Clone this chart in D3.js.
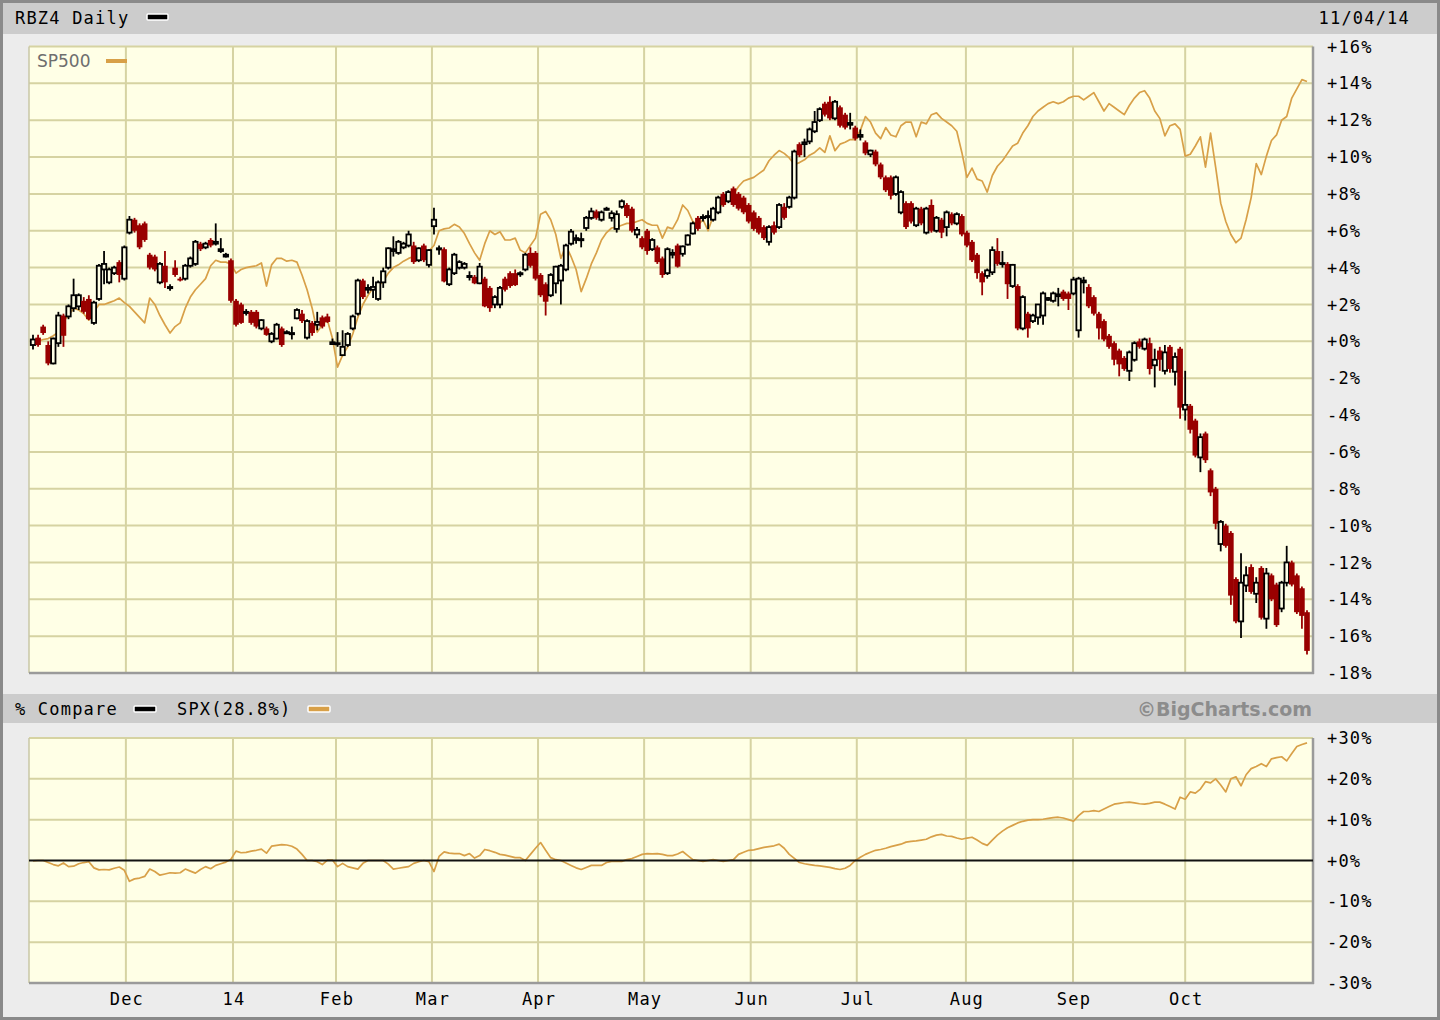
<!DOCTYPE html>
<html><head><meta charset="utf-8">
<script src="https://cdn.jsdelivr.net/npm/d3@7"></script>
<style>
html,body{margin:0;padding:0;background:#ececec;}
svg{display:block;}
.mono{font-family:"DejaVu Sans Mono",monospace;font-size:17px;letter-spacing:1.2px;fill:#000;}
</style>
</head><body>
<svg id="c" width="1440" height="1020"></svg>
<script>
// ---------------- DATA ----------------
const symbol = "RBZ4 Daily";
const chartDate = "11/04/14";
const compareName = "SP500";
const compareLabel = "SPX(28.8%)";
const monthLabels = ["Dec","14","Feb","Mar","Apr","May","Jun","Jul","Aug","Sep","Oct"];
// month starts as (fractional) trading-day index
const monthPos = [18.3,39.4,59.7,78.6,99.5,120.4,141.4,162.3,183.8,204.9,227.0];
const mainTicks = [16,14,12,10,8,6,4,2,0,-2,-4,-6,-8,-10,-12,-14,-16,-18];
const compareTicks = [30,20,10,0,-10,-20,-30];

// RBZ4 daily candles, % change from first close
const open = [
-0.2,0.2,0.8,-0.2,-1.2,-0.1,1.4,1.35,1.8,1.9,2.2,2.3,1.0,2.3,3.9,3.2,3.7,4.3,
3.4,5.9,6.6,6.3,6.4,4.7,4.6,3.2,4.1,2.9,4.0,3.4,3.4,4.1,4.2,5.3,5.1,5.5,5.3,4.9,4.6,
4.4,2.2,2.0,1.55,1.6,1.6,0.7,0.7,0.0,0.15,0.7,0.45,0.4,1.25,1.5,0.2,1.0,0.9,1.3,1.35,-0.15,
-0.15,-0.75,-0.2,0.7,1.5,3.3,2.8,2.8,2.3,3.2,4.0,4.9,4.8,5.1,5.2,5.2,4.4,5.2,4.15,
6.25,5.0,5.0,3.1,3.7,4.0,4.0,3.5,3.5,3.15,3.4,2.9,2.0,2.0,3.4,3.7,3.7,3.65,3.9,4.8,4.8,
3.6,3.1,2.5,3.15,3.3,3.9,5.3,5.5,5.5,6.15,6.7,7.05,6.6,7.15,6.7,6.1,7.3,7.4,7.2,5.8,5.6,
6.0,5.0,5.1,4.5,3.7,4.7,5.2,4.75,5.25,5.85,6.7,6.7,6.75,6.6,7.0,8.0,7.6,8.3,8.0,7.8,7.4,
7.0,6.7,6.2,5.4,6.3,6.2,7.3,7.3,7.8,10.7,10.7,10.85,11.4,12.0,12.9,13.0,12.1,12.7,12.3,11.75,11.6,
11.1,10.8,10.15,10.3,9.6,8.9,8.9,8.0,7.0,7.5,7.5,6.3,7.2,5.9,7.4,6.0,6.6,6.2,6.9,6.4,6.8,5.9,
5.4,4.7,3.7,3.55,3.75,4.9,4.2,4.2,3.0,3.0,0.7,1.5,1.1,1.3,1.4,2.25,2.2,2.45,2.7,2.6,2.6,
0.6,3.2,2.95,2.4,1.5,1.1,0.3,-0.1,-0.5,-0.9,-1.6,-1.0,0.0,-0.4,-0.1,-1.3,-0.5,-1.6,-0.3,-1.65,-0.4,
-3.7,-3.5,-4.3,-6.3,-5.0,-7.0,-8.0,-11.0,-10.0,-10.4,-12.9,-15.2,-13.25,-12.25,-13.7,-12.3,-15.05,-12.7,-13.2,-14.5,-13.1,-12.0,-12.7,-13.4,-14.7
];
const high = [
0.35,0.35,0.9,0.0,0.2,1.6,1.5,2.0,3.4,2.6,2.4,2.5,2.2,4.2,4.9,4.0,4.1,4.4,
5.2,6.8,6.7,6.4,6.5,4.8,4.7,4.3,4.9,3.1,4.4,3.5,4.2,4.6,5.5,5.4,5.4,5.6,6.4,5.6,4.8,
4.5,2.3,2.1,1.75,1.7,1.7,1.2,0.8,0.5,1.0,0.8,0.6,0.8,1.8,1.7,1.2,1.1,1.6,1.4,1.5,0.15,
0.5,0.6,0.5,1.45,3.4,3.4,3.1,3.5,3.3,4.0,5.1,5.7,5.5,5.4,6.0,5.4,5.1,5.3,5.0,
7.25,5.2,5.1,4.0,4.8,4.4,4.3,3.8,3.6,4.25,3.5,3.0,2.5,3.0,3.5,3.8,3.9,3.8,4.8,5.1,4.9,
3.7,3.2,3.7,4.1,4.2,5.3,6.1,5.8,5.9,6.8,7.25,7.15,7.1,7.3,7.1,7.1,7.7,7.5,7.3,6.2,5.7,
6.1,5.6,5.2,4.6,5.1,5.0,5.3,5.2,5.8,6.5,6.8,6.9,7.1,7.3,7.9,8.1,8.2,8.4,8.1,7.9,7.5,
7.1,6.8,6.3,6.3,6.5,7.5,7.5,7.9,10.4,10.8,11.0,11.6,12.5,12.7,13.0,13.3,13.1,12.8,12.4,12.4,11.7,
11.5,10.9,10.4,10.4,9.7,9.0,9.0,9.0,8.2,7.6,7.6,7.3,7.3,7.3,7.7,6.8,6.7,7.1,7.0,7.0,6.9,6.0,
5.5,4.8,3.8,3.95,5.15,5.6,4.9,4.3,4.2,3.1,2.5,1.6,1.5,2.0,2.7,2.4,2.7,2.9,2.8,2.7,3.5,
3.5,3.5,3.1,2.5,1.6,1.2,0.4,0.0,-0.4,-0.8,-0.5,0.0,0.15,0.2,0.2,-0.4,-0.3,-0.2,-0.2,-0.6,-0.3,
-1.6,-3.4,-4.2,-5.0,-4.9,-6.9,-7.9,-9.7,-9.9,-10.3,-12.8,-11.5,-12.2,-12.1,-12.8,-12.2,-12.3,-12.6,-13.1,-13.0,-11.1,-11.9,-12.6,-13.3,-14.6
];
const low = [
-0.45,-0.3,0.35,-1.3,-1.25,-0.3,-0.3,1.2,1.6,1.7,1.5,1.15,0.9,2.2,3.1,3.1,3.6,3.2,
3.3,5.8,5.9,5.0,5.4,3.9,3.8,3.1,2.9,2.75,3.5,3.25,3.3,4.0,4.1,4.9,5.0,5.1,5.2,4.8,4.55,
2.1,0.8,0.95,1.4,0.9,0.7,0.6,0.3,-0.1,0.1,-0.3,0.4,0.1,1.2,1.0,0.1,0.3,0.6,0.7,1.0,-0.2,
-0.3,-0.8,-0.3,0.6,1.4,2.3,2.6,2.35,2.2,2.9,3.9,4.6,4.7,5.0,5.1,4.2,4.3,4.3,4.0,
5.8,4.7,3.2,3.0,3.6,3.9,3.9,3.3,3.1,3.1,1.85,1.6,1.8,1.8,2.7,2.9,3.0,3.5,3.8,4.0,3.3,
2.4,1.4,2.4,2.6,2.0,3.8,5.2,5.3,5.1,6.0,6.6,6.6,6.5,7.1,6.5,5.9,7.2,6.7,5.9,5.6,5.0,
4.7,4.9,4.2,3.45,3.6,4.5,4.0,4.6,5.2,5.8,6.0,6.5,6.1,6.5,6.9,7.3,7.5,7.3,7.1,6.9,6.4,
6.0,5.8,5.5,5.2,5.8,6.1,6.6,7.2,7.7,10.0,10.0,10.7,11.3,11.9,12.2,12.0,12.0,11.6,11.5,11.5,10.9,
10.9,10.1,10.0,9.5,8.8,8.1,7.7,7.9,6.9,6.1,6.4,6.2,6.3,5.8,5.9,5.9,5.6,5.7,6.3,6.3,5.7,5.1,
4.3,3.4,2.5,3.4,3.6,4.1,4.0,2.3,2.9,0.6,0.6,0.2,1.0,0.9,0.9,2.2,2.1,1.9,2.2,1.7,2.5,
0.2,2.6,1.8,1.4,0.1,0.0,-0.4,-1.3,-1.9,-1.6,-2.15,-1.1,-0.4,-0.5,-1.8,-2.5,-1.6,-1.8,-1.7,-2.4,-4.2,
-4.3,-5.0,-6.3,-7.1,-6.6,-8.4,-10.2,-11.4,-11.2,-14.3,-15.3,-16.1,-13.6,-13.7,-14.2,-15.1,-15.6,-14.1,-15.5,-14.7,-13.3,-13.3,-14.8,-15.6,-17.0
];
const close = [
0.1,-0.2,0.45,-1.2,0.15,1.4,0.3,1.9,2.5,2.5,1.6,1.2,2.1,4.1,4.2,3.9,4.0,3.6,
5.1,6.6,6.0,5.1,5.5,4.0,3.9,4.2,3.2,2.95,3.6,3.3,4.1,4.5,5.4,5.0,5.3,5.2,5.4,5.0,4.7,
2.2,0.9,1.0,1.6,1.0,0.8,1.15,0.35,0.4,0.9,-0.2,0.5,0.45,1.7,1.1,1.1,0.45,1.05,0.8,1.05,-0.05,
-0.1,-0.3,0.4,1.35,3.3,2.4,2.9,2.95,3.2,3.8,5.05,5.0,5.4,5.3,5.8,4.3,5.05,4.4,4.95,
6.6,5.05,3.25,3.9,4.7,4.3,4.2,3.55,3.15,4.05,1.9,1.8,2.4,2.9,2.8,3.0,3.05,3.7,4.7,4.1,3.4,
2.5,2.15,3.6,4.05,4.1,5.2,5.95,5.6,5.55,6.7,7.05,6.7,7.0,7.2,6.95,6.9,7.6,6.8,6.0,6.05,5.1,
4.9,5.5,4.3,3.6,5.0,4.8,4.05,5.15,5.75,6.4,6.1,6.75,6.8,7.2,7.8,7.4,8.1,7.4,7.2,7.0,6.5,
6.1,5.9,5.6,6.2,5.9,7.4,6.7,7.8,10.3,10.1,10.8,11.5,11.9,12.6,12.3,12.1,13.0,11.7,11.6,11.85,11.0,
11.2,10.2,10.35,9.6,8.9,8.2,7.9,8.9,8.1,6.2,6.5,7.2,6.4,7.2,6.0,6.7,5.9,7.0,6.4,6.9,5.8,5.2,
4.4,3.7,3.2,3.85,4.95,4.2,4.25,3.1,4.15,0.7,2.4,0.7,1.4,2.0,2.6,2.35,2.6,2.55,2.3,2.3,3.35,
3.4,3.3,1.9,1.5,0.7,0.1,-0.3,-1.0,-1.25,-1.5,-0.6,-0.1,-0.3,0.1,-1.5,-1.0,-1.0,-0.6,-1.5,-0.85,-3.6,
-3.45,-4.8,-6.2,-5.2,-6.45,-8.2,-9.9,-9.8,-11.1,-13.8,-15.2,-13.1,-12.7,-13.6,-13.1,-15.0,-12.6,-14.0,-15.4,-13.1,-12.0,-13.2,-14.7,-14.9,-16.8
];
// SP500 % change, same days
const sp500 = [
0.0,0.0,0.1,0.15,0.3,0.5,1.1,1.4,1.8,1.7,
1.5,1.15,1.6,2.0,2.0,2.1,2.2,2.35,2.1,1.9,
1.6,1.3,1.0,2.35,2.0,1.4,0.9,0.45,0.8,1.0,
1.8,2.4,2.8,3.1,3.4,4.1,4.4,4.3,4.3,4.2,
3.7,3.9,4.0,4.05,4.1,4.25,3.0,4.15,4.5,4.5,
4.35,4.4,4.3,3.6,2.8,1.8,0.5,0.9,1.15,0.15,
-1.4,-0.75,-0.3,0.4,1.3,2.0,2.5,2.9,3.0,3.25,
3.7,4.0,4.15,4.35,4.5,4.6,4.65,4.7,4.9,5.2,
6.0,6.1,6.15,6.35,6.2,5.85,5.3,4.8,4.4,5.3,
6.0,5.8,5.95,5.5,5.5,5.6,4.95,4.8,5.2,5.6,
6.9,7.05,6.6,5.8,4.5,5.2,4.6,3.9,2.7,3.4,
4.2,4.8,5.5,5.9,6.15,6.2,6.3,6.4,6.4,6.5,
6.6,6.4,6.3,6.3,5.6,6.2,6.1,6.6,7.4,7.1,
6.5,6.3,6.6,6.0,6.8,7.2,7.5,7.7,8.0,8.4,
8.7,8.8,8.9,9.1,9.3,9.8,10.1,10.35,10.2,9.95,
9.6,9.7,9.85,10.1,10.25,10.5,10.25,11.15,10.35,10.7,
10.8,10.95,10.95,11.45,12.2,11.9,11.3,11.0,11.6,11.2,
11.1,11.7,11.9,11.9,11.1,11.9,11.8,12.3,12.4,12.1,
11.9,11.7,11.4,10.25,8.9,9.4,8.8,8.7,8.1,9.0,
9.5,9.8,10.2,10.6,10.75,11.3,11.7,12.2,12.5,12.7,
12.9,13.0,12.9,13.0,13.2,13.3,13.3,13.1,13.3,13.5,
13.0,12.5,12.9,12.7,12.5,12.3,12.8,13.2,13.5,13.6,
13.2,12.5,12.1,11.15,11.7,11.8,11.5,10.05,10.15,10.6,
11.1,9.45,11.3,9.45,7.5,6.5,5.8,5.35,5.6,6.6,
7.8,9.65,9.05,10.05,10.9,11.2,12.0,12.2,13.2,13.7,
14.2,14.1
];
// % Compare panel: SPX relative performance
const spxCompare = [
-0.1,0.0,0.0,-0.5,-1.0,-1.3,-0.6,-1.5,-1.4,-0.8,
-0.5,-0.3,-1.8,-2.3,-2.2,-2.3,-1.9,-1.6,-2.4,-5.1,
-4.5,-4.3,-3.9,-2.1,-2.7,-3.6,-3.3,-3.0,-3.1,-3.0,
-2.1,-2.6,-3.1,-2.2,-1.5,-2.0,-1.2,-0.8,-0.4,0.3,
2.3,1.9,2.0,2.3,2.5,2.8,1.8,3.5,3.7,3.9,
3.8,3.5,2.8,1.5,0.0,0.0,-0.3,-1.0,0.1,0.1,
-1.5,-0.7,-1.5,-1.8,-2.1,-0.7,0.0,0.0,0.0,0.0,
-0.9,-2.1,-1.9,-1.7,-1.5,-0.7,-0.3,0.0,-0.3,-2.7,
1.0,2.1,1.8,1.7,1.7,1.2,1.7,0.6,1.2,2.7,
2.4,2.0,1.5,1.3,1.0,0.7,0.7,0.0,1.5,3.0,
4.4,2.5,0.7,0.2,0.0,-0.6,-1.2,-1.8,-2.2,-1.7,
-1.2,-1.2,-1.2,-0.5,-0.2,-0.2,-0.2,0.2,0.5,1.0,
1.5,1.7,1.6,1.7,1.5,1.2,1.2,1.6,2.2,1.2,
0.2,0.0,-0.2,0.0,0.2,0.0,-0.2,0.0,0.2,1.5,
2.0,2.5,2.6,2.9,3.2,3.4,3.6,4.0,3.0,1.5,
0.5,-0.5,-0.8,-1.0,-1.2,-1.3,-1.5,-1.7,-2.0,-2.2,
-1.9,-1.2,0.0,0.8,1.5,2.0,2.5,2.7,3.0,3.4,
3.7,4.0,4.5,4.7,4.8,5.0,5.2,5.8,6.2,6.4,
6.0,5.9,5.5,5.2,5.5,5.7,5.0,4.2,3.7,5.0,
6.2,7.2,8.0,8.6,9.2,9.6,9.9,10.0,10.0,10.1,
10.3,10.5,10.6,10.4,10.0,9.6,11.0,12.0,12.0,12.2,
12.0,12.6,13.2,13.8,14.0,14.2,14.3,14.1,13.9,13.8,
14.0,14.3,14.3,13.8,13.2,12.6,15.5,15.0,16.8,16.5,
17.5,19.3,19.0,20.0,18.5,16.8,20.0,20.5,18.3,21.0,
22.5,23.0,23.7,23.0,24.9,25.2,25.4,24.4,26.2,27.9,
28.4,28.8
];

// ---------------- DRAW ----------------
const W = 1440, H = 1020;
const PL = 29, PR = 1313;
const svg = d3.select("#c");
const BG = "#ffffe6", GRID = "#d6d3a2", RED = "#990000", ORANGE = "#d8a048";

svg.append("rect").attr("x",0).attr("y",0).attr("width",W).attr("height",H).attr("fill","#ececec");
// header bars
svg.append("rect").attr("x",3).attr("y",3).attr("width",W-6).attr("height",31).attr("fill","#cccccc");
svg.append("rect").attr("x",3).attr("y",694).attr("width",W-6).attr("height",29).attr("fill","#cccccc");
// outer frame
svg.append("rect").attr("x",1.5).attr("y",1.5).attr("width",W-3).attr("height",H-3)
  .attr("fill","none").attr("stroke","#8a8a8a").attr("stroke-width",3);

const x = d3.scaleLinear().domain([0, close.length-1]).range([33, 1307]);
const y = d3.scaleLinear().domain([-18, 16]).range([673, 46.5]);
const y2 = d3.scaleLinear().domain([-30, 30]).range([983, 738]);
const pct = v => (v >= 0 ? "+" : "") + v + "%";

function panel(top, bottom){
  svg.append("rect").attr("x",PL).attr("y",top).attr("width",PR-PL).attr("height",bottom-top).attr("fill",BG);
}
panel(46.5, 673);
panel(738, 983);

// main grid
const gMain = svg.append("g");
gMain.selectAll("line.h").data(mainTicks).join("line")
  .attr("x1",PL).attr("x2",PR).attr("y1",d=>y(d)).attr("y2",d=>y(d))
  .attr("stroke",GRID).attr("stroke-width",2);
gMain.selectAll("line.v").data(monthPos).join("line")
  .attr("x1",d=>x(d)).attr("x2",d=>x(d)).attr("y1",46.5).attr("y2",673)
  .attr("stroke",GRID).attr("stroke-width",2);
// lower grid
const gLow = svg.append("g");
gLow.selectAll("line.h").data(compareTicks.filter(d=>d!==0)).join("line")
  .attr("x1",PL).attr("x2",PR).attr("y1",d=>y2(d)).attr("y2",d=>y2(d))
  .attr("stroke",GRID).attr("stroke-width",2);
gLow.selectAll("line.v").data(monthPos).join("line")
  .attr("x1",d=>x(d)).attr("x2",d=>x(d)).attr("y1",738).attr("y2",983)
  .attr("stroke",GRID).attr("stroke-width",2);

// panel borders (bevel: right/bottom darker)
[[46.5,673],[738,983]].forEach(([t,b])=>{
  svg.append("line").attr("x1",PL).attr("x2",PL).attr("y1",t).attr("y2",b).attr("stroke","#c9c7a6").attr("stroke-width",1.5);
  svg.append("line").attr("x1",PR).attr("x2",PR).attr("y1",t).attr("y2",b+1).attr("stroke","#9a9a9a").attr("stroke-width",2.5);
  svg.append("line").attr("x1",PL).attr("x2",PR+1).attr("y1",b).attr("y2",b).attr("stroke","#9a9a9a").attr("stroke-width",2.5);
});

// SP500 line in main panel
const line = d3.line().x((d,i)=>x(i)).y(d=>y(d)).curve(d3.curveLinear);
svg.append("path").datum(sp500).attr("d",line).attr("fill","none")
  .attr("stroke",ORANGE).attr("stroke-width",1.7).attr("stroke-linejoin","round");

// candles
const idx = d3.range(close.length);
const gC = svg.append("g");
const up = i => close[i] >= open[i];
gC.selectAll("line.w").data(idx).join("line")
  .attr("x1",i=>x(i)).attr("x2",i=>x(i))
  .attr("y1",i=>y(high[i])).attr("y2",i=>y(low[i]))
  .attr("stroke",i=>up(i)?"#000":RED).attr("stroke-width",1.8);
gC.selectAll("rect.b").data(idx).join("rect")
  .attr("x",i=>up(i)? x(i)-2.2 : x(i)-2.8)
  .attr("width",i=>up(i)?4.4:5.6)
  .attr("y",i=>y(Math.max(open[i],close[i])))
  .attr("height",i=>Math.max(y(Math.min(open[i],close[i]))-y(Math.max(open[i],close[i])), 1.2))
  .attr("fill",i=>up(i)?BG:RED)
  .attr("stroke",i=>up(i)?"#000":"none")
  .attr("stroke-width",1.8);

// compare panel lines
const line2 = d3.line().x((d,i)=>x(i)).y(d=>y2(d));
svg.append("path").datum(spxCompare).attr("d",line2).attr("fill","none")
  .attr("stroke",ORANGE).attr("stroke-width",1.7).attr("stroke-linejoin","round");
svg.append("line").attr("x1",PL).attr("x2",PR).attr("y1",y2(0)).attr("y2",y2(0))
  .attr("stroke","#111").attr("stroke-width",2);

// axis labels
svg.append("g").selectAll("text").data(mainTicks).join("text")
  .attr("class","mono").attr("x",1327).attr("y",d=>y(d)).attr("dy","0.36em")
  .text(pct);
svg.append("g").selectAll("text").data(compareTicks).join("text")
  .attr("class","mono").attr("x",1327).attr("y",d=>y2(d)).attr("dy","0.36em")
  .text(pct);
svg.append("g").selectAll("text").data(monthLabels).join("text")
  .attr("class","mono").attr("x",(d,i)=>x(monthPos[i])+1).attr("y",999).attr("dy","0.36em")
  .attr("text-anchor","middle").text(d=>d);

// header
svg.append("text").attr("class","mono").attr("x",15).attr("y",18).attr("dy","0.36em").text(symbol);
svg.append("rect").attr("x",147).attr("y",14).attr("width",21).attr("height",6).attr("rx",1)
  .attr("fill","#000").attr("stroke","#fff").attr("stroke-width",1.5);
svg.append("text").attr("class","mono").attr("x",1410).attr("y",18).attr("dy","0.36em")
  .attr("text-anchor","end").text(chartDate);

// legend in main panel
svg.append("text").attr("x",37).attr("y",61).attr("dy","0.36em")
  .style("font-family","'DejaVu Sans',sans-serif").style("font-size","17px").attr("fill","#6e6e6e")
  .text(compareName);
svg.append("rect").attr("x",106).attr("y",59).attr("width",21).attr("height",4).attr("fill",ORANGE);

// compare header
svg.append("text").attr("class","mono").attr("x",15).attr("y",709).attr("dy","0.36em").text("% Compare");
svg.append("rect").attr("x",134).attr("y",706).attr("width",22).attr("height",6).attr("rx",1)
  .attr("fill","#000").attr("stroke","#fff").attr("stroke-width",1.5);
svg.append("text").attr("class","mono").attr("x",177).attr("y",709).attr("dy","0.36em").text(compareLabel);
svg.append("rect").attr("x",308).attr("y",706).attr("width",22).attr("height",6).attr("rx",1)
  .attr("fill",ORANGE).attr("stroke","#fff").attr("stroke-width",1.5);
svg.append("text").attr("x",1312).attr("y",709).attr("dy","0.36em").attr("text-anchor","end")
  .style("font-family","'DejaVu Sans',sans-serif").style("font-size","19px").style("font-weight","bold")
  .attr("fill","#8c8c8c").text("©BigCharts.com");
</script>
</body></html>
